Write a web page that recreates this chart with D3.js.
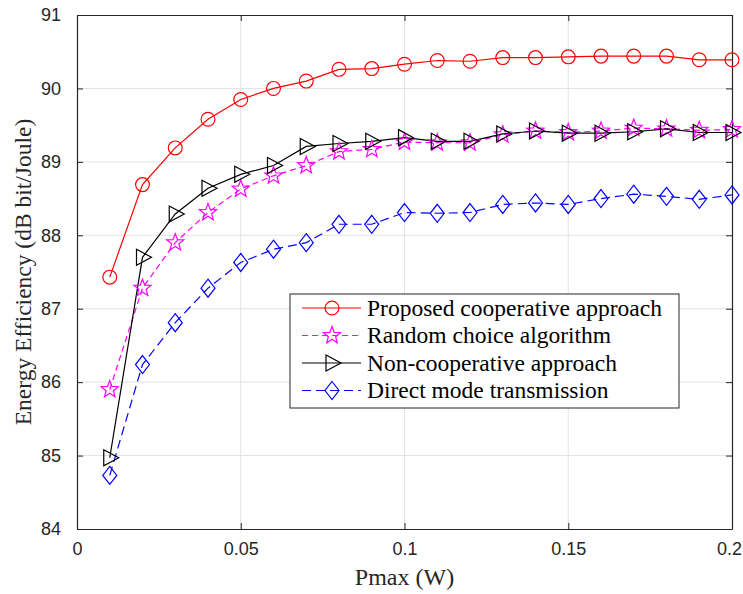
<!DOCTYPE html>
<html>
<head>
<meta charset="utf-8">
<script src="https://cdn.jsdelivr.net/npm/d3@7"></script>
<style>
  body { margin: 0; background: #fff; }
  svg { display: block; }
  text.serif { font-family: "Liberation Serif", "Times New Roman", "DejaVu Serif", serif; }
  .tick text { font-family: "Liberation Sans", Arial, Helvetica, sans-serif; }
</style>
</head>
<body>
<svg width="743" height="594"></svg>
<script>
// pmax values (W)
let pmax = [0.01, 0.02, 0.03, 0.04, 0.05, 0.06, 0.07, 0.08, 0.09, 0.10,
            0.11, 0.12, 0.13, 0.14, 0.15, 0.16, 0.17, 0.18, 0.19, 0.20];

// energy efficiency of each scheme
let proposed = [87.43, 88.69, 89.19, 89.58, 89.85, 90.00, 90.10, 90.26, 90.27, 90.33,
                90.38, 90.37, 90.42, 90.42, 90.43, 90.44, 90.44, 90.44, 90.39, 90.39];
let randomChoice = [85.90, 87.28, 87.90, 88.31, 88.63, 88.81, 88.95, 89.14, 89.17, 89.27,
                    89.26, 89.26, 89.37, 89.42, 89.40, 89.42, 89.46, 89.45, 89.43, 89.44];
let nonCoop = [84.97, 87.70, 88.29, 88.64, 88.83, 88.95, 89.21, 89.25, 89.28, 89.33,
               89.28, 89.28, 89.38, 89.42, 89.39, 89.39, 89.41, 89.45, 89.40, 89.40];
let direct = [84.73, 86.24, 86.81, 87.28, 87.63, 87.81, 87.90, 88.15, 88.15, 88.31,
              88.30, 88.31, 88.42, 88.44, 88.42, 88.50, 88.56, 88.53, 88.49, 88.55];

let seriesNames = ["Proposed cooperative approach", "Random choice algorithm",
                   "Non-cooperative approach", "Direct mode transmission"];

let xTicks = [0, 0.05, 0.1, 0.15, 0.2];
let xTickLabels = ["0", "0.05", "0.1", "0.15", "0.2"];
let yTicks = [84, 85, 86, 87, 88, 89, 90, 91];

let series = [
  { name: seriesNames[0], values: proposed, color: "#ff0000", dash: null, marker: "circle" },
  { name: seriesNames[1], values: randomChoice, color: "#ff00ff", dash: "6,4", marker: "star" },
  { name: seriesNames[2], values: nonCoop, color: "#000000", dash: null, marker: "triangle" },
  { name: seriesNames[3], values: direct, color: "#0000ff", dash: "9,5", marker: "diamond" }
];

let svg = d3.select("svg");

let margin = { top: 15, right: 11, bottom: 65, left: 77 };
let plotWidth = 743 - margin.left - margin.right;
let plotHeight = 594 - margin.top - margin.bottom;

let x = d3.scaleLinear().domain([0, 0.2]).range([0, plotWidth]);
let y = d3.scaleLinear().domain([84, 91]).range([plotHeight, 0]);

let plot = svg.append("g")
  .attr("transform", "translate(" + margin.left + "," + margin.top + ")");

// grid lines
let grid = plot.append("g").attr("stroke", "#e3e3e3").attr("stroke-width", 1);
grid.selectAll(".gx").data(xTicks.slice(1, -1)).enter().append("line")
  .attr("x1", d => x(d)).attr("x2", d => x(d))
  .attr("y1", 0).attr("y2", plotHeight);
grid.selectAll(".gy").data(yTicks.slice(1, -1)).enter().append("line")
  .attr("x1", 0).attr("x2", plotWidth)
  .attr("y1", d => y(d)).attr("y2", d => y(d));

// axes (ticks point inward like matlab)
let xAxis = d3.axisBottom(x).tickValues(xTicks)
  .tickFormat((d, i) => xTickLabels[i]).tickSizeInner(-6).tickSizeOuter(0).tickPadding(13);
let yAxis = d3.axisLeft(y).tickValues(yTicks).tickFormat(d3.format("d"))
  .tickSizeInner(-6).tickSizeOuter(0).tickPadding(16);

let xGroup = plot.append("g").attr("transform", "translate(0," + plotHeight + ")").call(xAxis);
let yGroup = plot.append("g").call(yAxis);
let xTop = plot.append("g").call(d3.axisTop(x).tickValues(xTicks).tickSizeInner(-6).tickSizeOuter(0).tickFormat(""));
let yRight = plot.append("g").attr("transform", "translate(" + plotWidth + ",0)")
  .call(d3.axisRight(y).tickValues(yTicks).tickSizeInner(-6).tickSizeOuter(0).tickFormat(""));

[xGroup, yGroup, xTop, yRight].forEach(g => {
  g.attr("font-family", null);
  g.select(".domain").attr("stroke", "#262626").attr("stroke-width", 1.2);
  g.selectAll(".tick line").attr("stroke", "#262626");
  g.selectAll(".tick text").attr("font-size", 18).attr("fill", "#262626");
});

// keep the last x label inside the page
xGroup.selectAll(".tick text").filter(d => d == 0.2).attr("dx", -3);

// lines
let line = d3.line().x((d, i) => x(pmax[i])).y(d => y(d));

series.forEach(s => {
  plot.append("path")
    .datum(s.values)
    .attr("fill", "none")
    .attr("stroke", s.color)
    .attr("stroke-width", 1.2)
    .attr("stroke-dasharray", s.dash)
    .attr("d", line);
});

// marker shapes
let markerPath = function(type) {
  if (type == "circle") return d3.symbol(d3.symbolCircle, 150)();
  if (type == "star") {
    let pts = [];
    for (let k = 0; k < 10; k++) {
      let r = k % 2 == 0 ? 9 : 3.8;
      let a = -Math.PI / 2 + k * Math.PI / 5;
      pts.push([r * Math.cos(a), r * Math.sin(a)]);
    }
    return "M" + pts.join("L") + "Z";
  }
  if (type == "triangle") return "M-6,-8L9,0L-6,8Z";
  if (type == "diamond") return "M0,-9L7,0L0,9L-7,0Z";
};

series.forEach(s => {
  plot.append("g").selectAll("path")
    .data(s.values).enter().append("path")
    .attr("transform", (d, i) => "translate(" + x(pmax[i]) + "," + y(d) + ")")
    .attr("d", markerPath(s.marker))
    .attr("fill", "none")
    .attr("stroke", s.color)
    .attr("stroke-width", 1.2);
});

// axis titles
svg.append("text").attr("class", "serif")
  .attr("font-size", 24).attr("fill", "#262626")
  .attr("text-anchor", "middle")
  .attr("x", margin.left + plotWidth / 2)
  .attr("y", 585)
  .text("Pmax (W)");

svg.append("text").attr("class", "serif")
  .attr("font-size", 23.5).attr("fill", "#262626")
  .attr("text-anchor", "middle")
  .attr("transform", "translate(31," + (margin.top + plotHeight / 2) + ")rotate(-90)")
  .text("Energy Efficiency (dB bit/Joule)");

// legend
let legend = plot.append("g").attr("transform", "translate(" + (290 - margin.left) + "," + (294 - margin.top) + ")");
legend.append("rect")
  .attr("width", 389).attr("height", 114)
  .attr("fill", "#fff").attr("stroke", "#262626").attr("stroke-width", 1);

series.forEach((s, i) => {
  let row = legend.append("g").attr("transform", "translate(0," + (14 + i * 27.5) + ")");
  row.append("line")
    .attr("x1", 12).attr("x2", 71).attr("y1", 0).attr("y2", 0)
    .attr("stroke", s.color).attr("stroke-width", 1.2)
    .attr("stroke-dasharray", s.dash);
  row.append("path")
    .attr("transform", "translate(42,0)")
    .attr("d", markerPath(s.marker))
    .attr("fill", "none").attr("stroke", s.color).attr("stroke-width", 1.2);
  row.append("text").attr("class", "serif")
    .attr("font-size", 23.5).attr("fill", "#000")
    .attr("x", 77).attr("y", 7.5)
    .text(s.name);
});
</script>
</body>
</html>
